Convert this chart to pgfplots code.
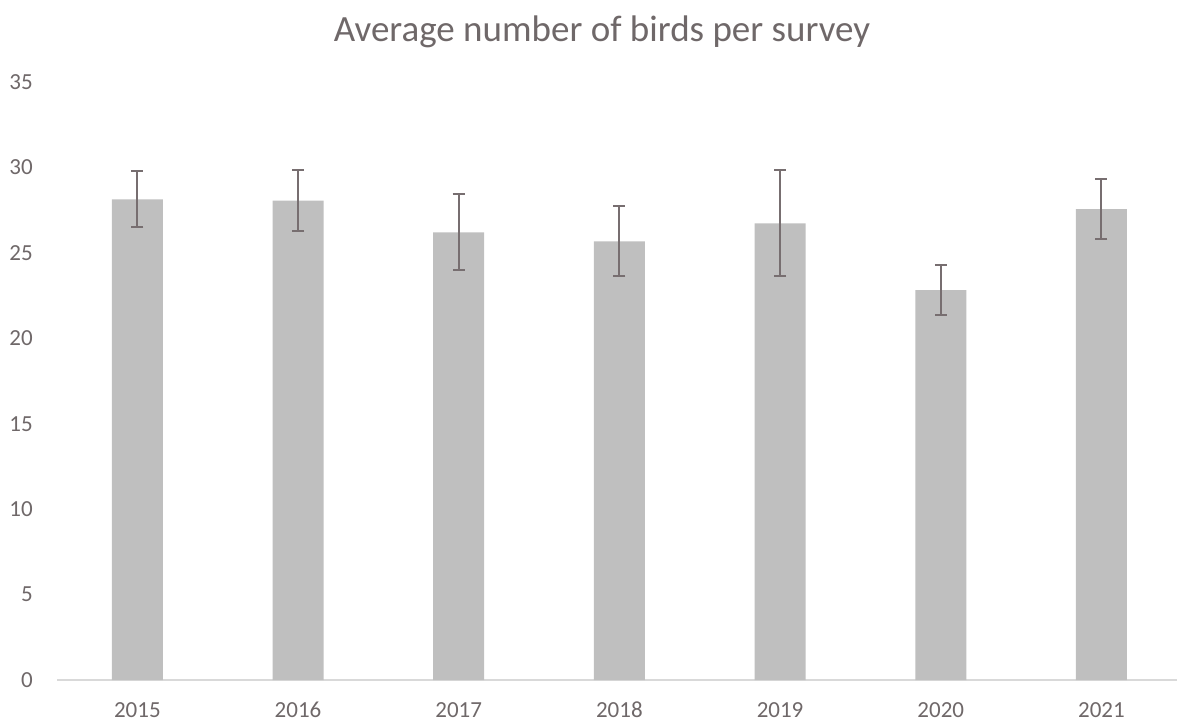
\documentclass[border=0pt]{standalone}
\usepackage{pgfplots}
\pgfplotsset{compat=1.18}
\usepackage{fontspec}
\setmainfont{Carlito}
\definecolor{txt}{HTML}{6F6869}
\definecolor{barc}{HTML}{BFBFBF}
\definecolor{errc}{HTML}{776E70}
\definecolor{axl}{HTML}{D9D9D9}
\begin{document}
\begin{tikzpicture}
\path[use as bounding box] (-57bp,-42bp) rectangle (1120bp,680bp);
\begin{axis}[at={(0,0)}, anchor=south west, scale only axis,
  width=1120bp, height=598bp,
  xmin=-0.5, xmax=6.47, ymin=0, ymax=35,
  ybar, bar width=51bp,
  axis x line*=bottom, axis y line*=left,
  y axis line style={draw=none},
  x axis line style={draw=axl, line width=1.5bp},
  xtick style={draw=none}, ytick style={draw=none},
  ytick={0,5,...,35},
  xtick={0,1,2,3,4,5,6},
  xticklabels={2015,2016,2017,2018,2019,2020,2021},
  /pgf/number format/assume math mode=true,
  ticklabel style={font=\fontsize{23bp}{27bp}\selectfont, text=txt, inner sep=0pt},
  xticklabel style={anchor=base, yshift=-33bp},
  yticklabel style={anchor=east, xshift=-24bp},
]
\addplot[fill=barc, draw=none,
  error bars/.cd, y dir=both, y explicit,
  error bar style={draw=errc, line width=2bp},
  error mark options={draw=errc, rotate=90, mark size=6bp, line width=2bp}]
coordinates {
(0,28.13) +- (0,1.64)
(1,28.05) +- (0,1.80)
(2,26.20) +- (0,2.22)
(3,25.67) +- (0,2.05)
(4,26.73) +- (0,3.10)
(5,22.82) +- (0,1.48)
(6,27.56) +- (0,1.77)
};
\end{axis}
\node[anchor=base, text=txt, font=\fontsize{37bp}{40bp}\selectfont, inner sep=0pt] at (545bp,638bp) {Average number of birds per survey};
\end{tikzpicture}
\end{document}
